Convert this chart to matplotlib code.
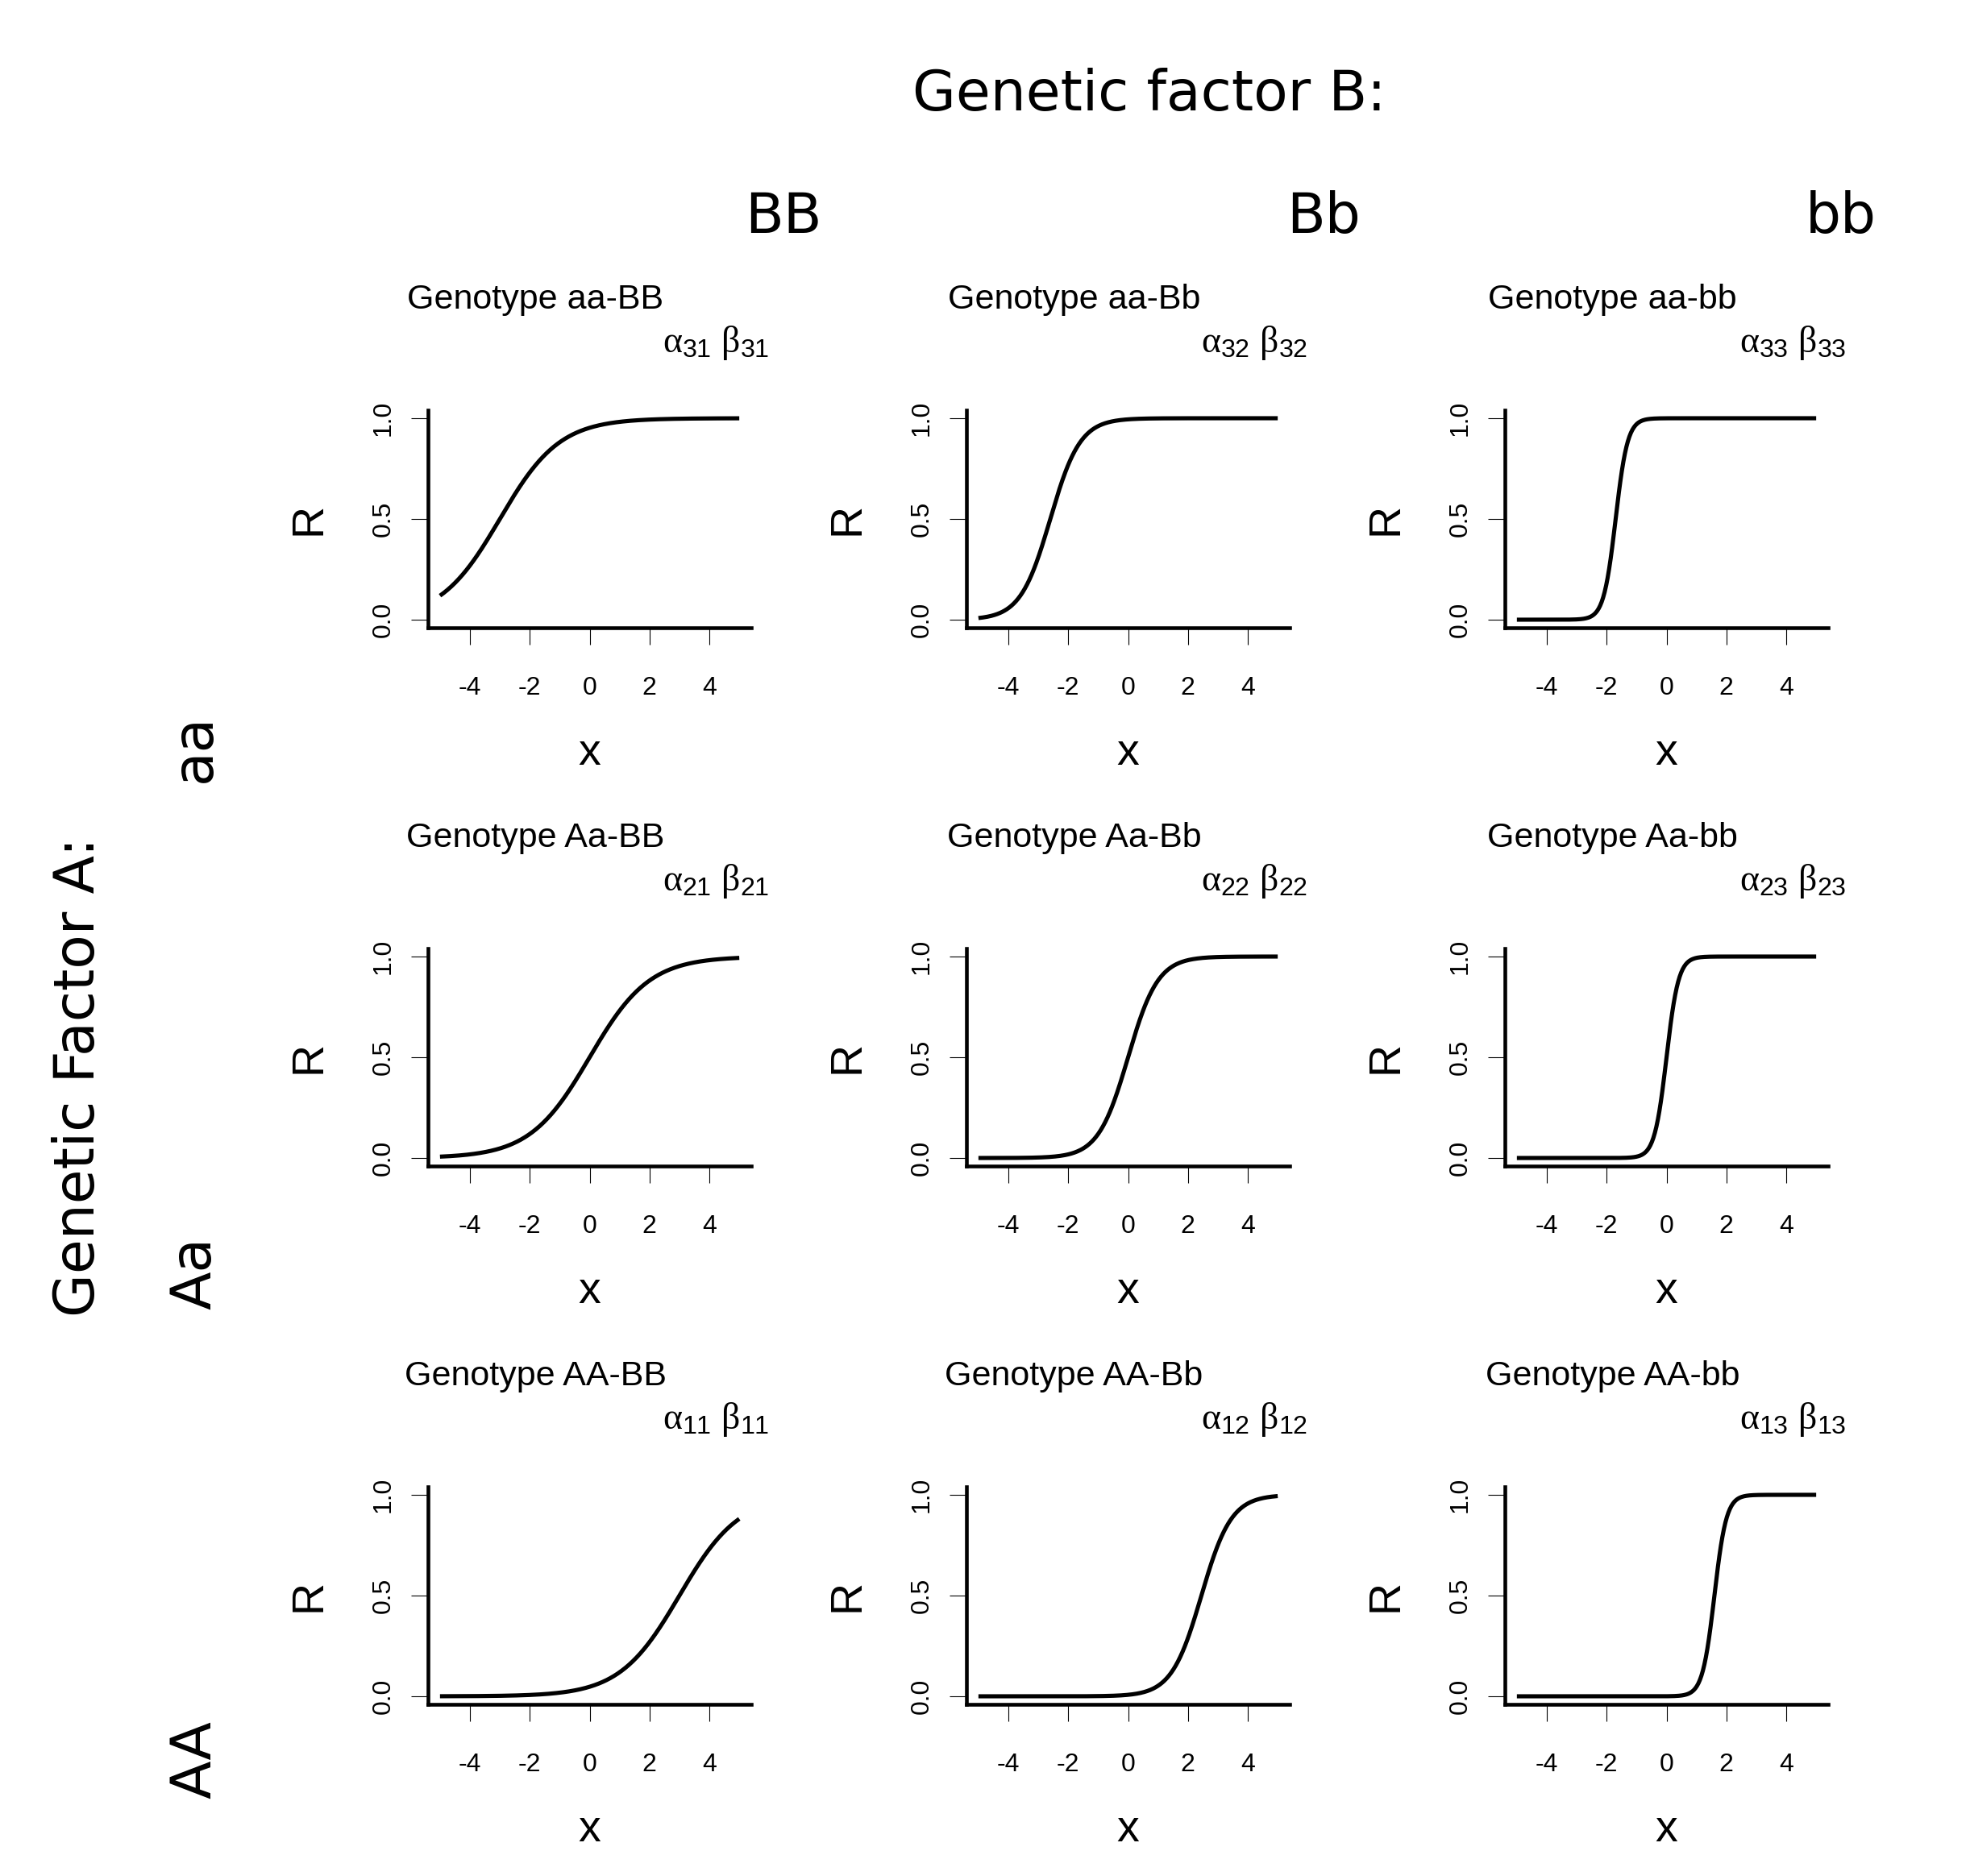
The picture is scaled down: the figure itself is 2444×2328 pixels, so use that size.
import numpy as np
import matplotlib
matplotlib.use("Agg")
import matplotlib.pyplot as plt
from matplotlib.ticker import FormatStrFormatter

# genotype grid: rows = factor A (top to bottom), columns = factor B
rowGeno = ["aa", "Aa", "AA"]
colGeno = ["BB", "Bb", "bb"]
rowIndex = ["3", "2", "1"]          # subscript row index shown in alpha/beta labels
colIndex = ["1", "2", "3"]

# logistic curves: R = 1 / (1 + exp(-slope * (x - mid)))
midpoints = [
    [-3.0, -2.6, -1.7],
    [0.0, 0.0, 0.0],
    [3.0, 2.45, 1.6],
]
slopes = [1.0, 2.0, 5.0]
xRange = (-5, 5)

xTicks = [-4, -2, 0, 2, 4]
yTicks = [0.0, 0.5, 1.0]

W, H = 2444, 2328
plt.rcParams["font.family"] = ["Liberation Sans", "DejaVu Sans"]
plt.rcParams["axes.unicode_minus"] = False
plt.rcParams["mathtext.fontset"] = "custom"
plt.rcParams["mathtext.rm"] = "Liberation Sans"
plt.rcParams["mathtext.it"] = "Liberation Serif"

fig = plt.figure(figsize=(W / 100, H / 100), dpi=100)

colLeft = [531, 1199, 1867]
rowTop = [509, 1177, 1845]
boxW, boxH = 401, 270

xs = np.linspace(xRange[0], xRange[1], 400)

for i in range(3):
    for j in range(3):
        ax = fig.add_axes([colLeft[j] / W, 1 - (rowTop[i] + boxH) / H, boxW / W, boxH / H])
        ys = 1.0 / (1.0 + np.exp(-slopes[j] * (xs - midpoints[i][j])))
        ax.plot(xs, ys, color="black", lw=3.7, solid_capstyle="butt")
        ax.set_xlim(-5.4, 5.4)
        ax.set_ylim(-0.04, 1.04)

        for s in ("top", "right"):
            ax.spines[s].set_visible(False)
        for s in ("left", "bottom"):
            ax.spines[s].set_linewidth(3.3)

        ax.set_xticks(xTicks)
        ax.set_xticklabels([str(t) for t in xTicks])
        ax.set_yticks(yTicks)
        ax.yaxis.set_major_formatter(FormatStrFormatter("%.1f"))
        ax.tick_params(axis="both", direction="out", length=15, width=0.8, labelsize=23)
        ax.tick_params(axis="x", pad=28)
        ax.tick_params(axis="y", pad=14, labelrotation=90)
        for lab in ax.get_yticklabels():
            lab.set_va("center")

        ax.text(0.333, 1.467, "Genotype " + rowGeno[i] + "-" + colGeno[j],
                transform=ax.transAxes, ha="center", va="baseline", fontsize=31)
        sub = rowIndex[i] + colIndex[j]
        ax.text(1.055, 1.265, r"$\alpha_{%s}\ \beta_{%s}$" % (sub, sub),
                transform=ax.transAxes, ha="right", va="baseline", fontsize=33)
        ax.text(-0.334, 0.5, "R", transform=ax.transAxes, rotation=90,
                rotation_mode="anchor", ha="center", va="baseline", fontsize=40)
        ax.text(0.5, -0.630, "x", transform=ax.transAxes, ha="center",
                va="baseline", fontsize=40)

# outer labels
big = dict(fontsize=50, family="DejaVu Sans")
fig.text(1426 / W, 1 - 137 / H, "Genetic factor B:", ha="center", va="baseline", **big)
colLabelRight = [1020, 1688, 2328]
for j in range(3):
    fig.text(colLabelRight[j] / W, 1 - 289 / H, colGeno[j], ha="right", va="baseline", **big)

fig.text(117 / W, 1 - 1336 / H, "Genetic Factor A:", rotation=90, rotation_mode="anchor",
         ha="center", va="baseline", **big)
rowLabelY = [928, 1580, 2184]
for i in range(3):
    fig.text(261 / W, 1 - rowLabelY[i] / H, rowGeno[i], rotation=90, rotation_mode="anchor",
             ha="center", va="baseline", **big)

fig.savefig("out.png", dpi=100, facecolor="white")
